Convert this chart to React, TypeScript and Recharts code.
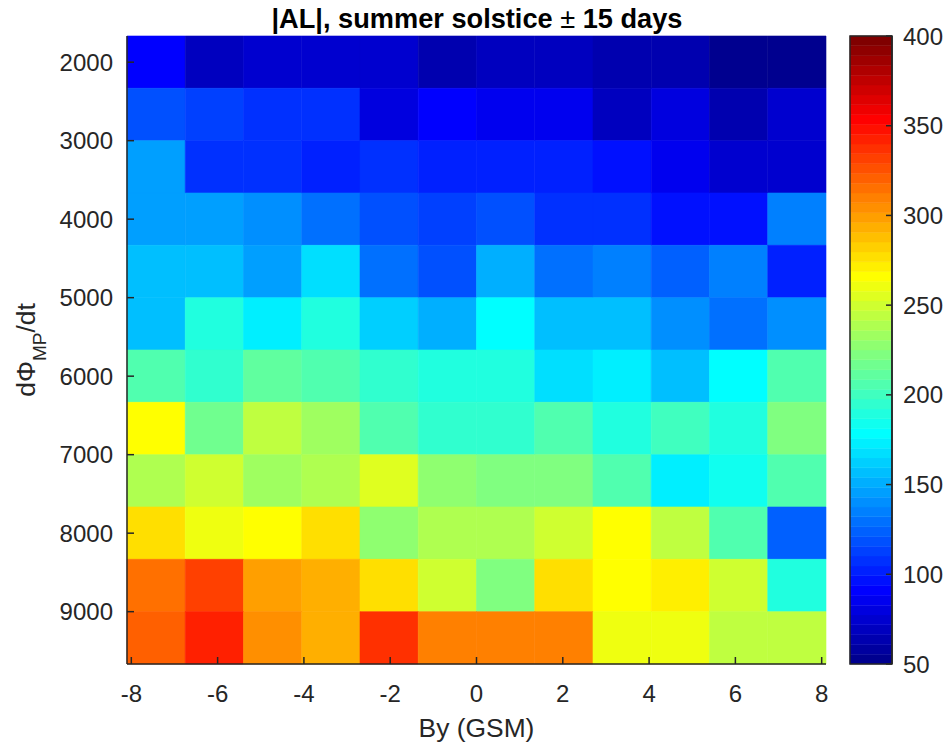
import React from 'react';
import { ScatterChart, Scatter, XAxis, YAxis, ReferenceArea } from 'recharts';

// Bin edges of the heat map (By in nT, dPhi_MP/dt)
const byEdges = [-8.1, -6.75, -5.4, -4.05, -2.7, -1.35, 0, 1.35, 2.7, 4.05, 5.4, 6.75, 8.1];
const dPhiEdges = [1666.7, 2333.3, 3000, 3666.7, 4333.3, 5000, 5666.7, 6333.3, 7000, 7666.7, 8333.3, 9000, 9666.7];

// |AL| values per dPhi bin (one value per By bin, left to right)
const al2000 = [90, 69, 77, 77, 77, 66, 68, 68, 63, 63, 53, 55];
const al2667 = [120, 115, 107, 107, 80, 91, 86, 86, 69, 80, 64, 75];
const al3333 = [146, 105, 108, 102, 108, 102, 102, 102, 96, 85, 75, 75];
const al4000 = [144, 144, 139, 129, 117, 113, 117, 107, 107, 96, 96, 136];
const al4667 = [155, 157, 144, 167, 132, 118, 150, 129, 133, 124, 136, 100];
const al5333 = [157, 190, 173, 190, 163, 151, 178, 157, 157, 141, 129, 141];
const al6000 = [206, 195, 213, 207, 195, 190, 192, 167, 173, 157, 178, 207];
const al6667 = [266, 217, 245, 235, 207, 195, 193, 207, 192, 198, 187, 223];
const al7333 = [239, 251, 235, 239, 255, 228, 223, 223, 207, 173, 185, 207];
const al8000 = [278, 260, 266, 278, 230, 239, 239, 247, 266, 243, 207, 126];
const al8667 = [316, 332, 299, 293, 278, 251, 223, 275, 266, 273, 251, 190];
const al9333 = [321, 342, 306, 293, 337, 309, 309, 309, 261, 261, 245, 245];
const alRows = [al2000, al2667, al3333, al4000, al4667, al5333, al6000, al6667, al7333, al8000, al8667, al9333];

const xTicks = [-8, -6, -4, -2, 0, 2, 4, 6, 8];
const yTicks = [2000, 3000, 4000, 5000, 6000, 7000, 8000, 9000];
const cbTicks = [50, 100, 150, 200, 250, 300, 350, 400];
const cLim = [50, 400];
const nColors = 64;

const FONT = '"Liberation Sans", Arial, Helvetica, sans-serif';
const INK = '#262626';

// MATLAB jet colormap, 1-based index
function jet(i: number, m: number = nColors): string {
  const n = Math.ceil(m / 4);
  const u: number[] = [];
  for (let k = 1; k <= n; k++) u.push(k / n);
  for (let k = 0; k < n - 1; k++) u.push(1);
  for (let k = n; k >= 1; k--) u.push(k / n);
  const g0 = Math.ceil(n / 2) - (m % 4 === 1 ? 1 : 0);
  const at = (j: number) => (j >= 1 && j <= u.length ? u[j - 1] : 0);
  const r = at(i - g0 - n);
  const g = at(i - g0);
  const b = at(i - g0 + n);
  const h = (x: number) => Math.round(x * 255).toString(16).padStart(2, '0');
  return '#' + h(r) + h(g) + h(b);
}

function valueColor(v: number): string {
  let idx = Math.floor(((v - cLim[0]) / (cLim[1] - cLim[0])) * nColors) + 1;
  idx = Math.max(1, Math.min(nColors, idx));
  return jet(idx);
}

type Cell = { x: number; y: number; x1: number; x2: number; y1: number; y2: number; v: number };
const cells: Cell[] = [];
alRows.forEach((row, j) => {
  row.forEach((v, i) => {
    cells.push({
      x: (byEdges[i] + byEdges[i + 1]) / 2,
      y: (dPhiEdges[j] + dPhiEdges[j + 1]) / 2,
      x1: byEdges[i],
      x2: byEdges[i + 1],
      y1: dPhiEdges[j],
      y2: dPhiEdges[j + 1],
      v,
    });
  });
});

const bands = Array.from({ length: nColors }, (_, i) => ({
  x: 0.5,
  y: cLim[0] + ((i + 0.5) * (cLim[1] - cLim[0])) / nColors,
  y1: cLim[0] + (i * (cLim[1] - cLim[0])) / nColors,
  y2: cLim[0] + ((i + 1) * (cLim[1] - cLim[0])) / nColors,
  color: jet(i + 1),
}));

const tickStyle = { fontSize: 24, fill: INK, fontFamily: FONT };
const noShape = () => <g />;

export default function App() {
  const xDom: [number, number] = [byEdges[0], byEdges[byEdges.length - 1]];
  const yDom: [number, number] = [dPhiEdges[0], dPhiEdges[dPhiEdges.length - 1]];
  return (
    <div style={{ position: 'absolute', left: 0, top: 0, width: 952, height: 749, background: '#fff', fontFamily: FONT }}>
      <div style={{ position: 'absolute', left: 0, top: 0 }}>
        <ScatterChart width={952} height={749} margin={{ top: 36, right: 126, bottom: 0, left: 0 }}>
          {cells.map((c, k) => (
            <ReferenceArea
              key={k}
              xAxisId="b"
              yAxisId="l"
              x1={c.x1}
              x2={c.x2}
              y1={c.y1}
              y2={c.y2}
              fill={valueColor(c.v)}
              fillOpacity={1}
              stroke={valueColor(c.v)}
              strokeWidth={0.6}
              ifOverflow="visible"
            />
          ))}
          <XAxis
            xAxisId="t"
            orientation="top"
            type="number"
            dataKey="x"
            domain={xDom}
            ticks={xTicks}
            height={0}
            tickSize={-7}
            tickFormatter={() => ''}
            stroke={INK}
            strokeWidth={1.5}
            allowDataOverflow
          />
          <XAxis
            xAxisId="b"
            orientation="bottom"
            type="number"
            dataKey="x"
            domain={xDom}
            ticks={xTicks}
            height={85}
            tickSize={-7}
            tickMargin={28}
            tick={tickStyle}
            stroke={INK}
            strokeWidth={1.5}
            allowDataOverflow
          />
          <YAxis
            yAxisId="l"
            orientation="left"
            type="number"
            dataKey="y"
            domain={yDom}
            reversed
            ticks={yTicks}
            width={127}
            tickSize={-7}
            tickMargin={21}
            tick={tickStyle}
            stroke={INK}
            strokeWidth={1.5}
            allowDataOverflow
          />
          <YAxis
            yAxisId="r"
            orientation="right"
            type="number"
            dataKey="y"
            domain={yDom}
            reversed
            ticks={yTicks}
            width={0}
            tickSize={-7}
            tickFormatter={() => ''}
            stroke={INK}
            strokeWidth={1.5}
            allowDataOverflow
          />
          <Scatter xAxisId="b" yAxisId="l" data={cells} dataKey="y" isAnimationActive={false} shape={noShape} />
          <Scatter xAxisId="t" yAxisId="r" data={cells} dataKey="y" isAnimationActive={false} shape={noShape} />
        </ScatterChart>
      </div>
      <div style={{ position: 'absolute', left: 840, top: 0 }}>
        <ScatterChart width={112} height={749} margin={{ top: 36, right: 0, bottom: 85, left: 10 }}>
          {bands.map((b, k) => (
            <ReferenceArea
              key={k}
              xAxisId="cx"
              yAxisId="cy"
              x1={0}
              x2={1}
              y1={b.y1}
              y2={b.y2}
              fill={b.color}
              fillOpacity={1}
              stroke={b.color}
              strokeWidth={0.5}
              ifOverflow="visible"
            />
          ))}
          <ReferenceArea
            xAxisId="cx"
            yAxisId="cy"
            x1={0}
            x2={1}
            y1={cLim[0]}
            y2={cLim[1]}
            fill="none"
            fillOpacity={0}
            stroke={INK}
            strokeWidth={1.5}
            ifOverflow="visible"
          />
          <XAxis
            xAxisId="cx"
            type="number"
            dataKey="x"
            domain={[0, 1]}
            height={0}
            tick={false}
            tickLine={false}
            axisLine={false}
            allowDataOverflow
          />
          <YAxis
            yAxisId="cy"
            orientation="right"
            type="number"
            dataKey="y"
            domain={cLim}
            ticks={cbTicks}
            width={60}
            tickSize={-6}
            tickMargin={17}
            tick={tickStyle}
            stroke={INK}
            strokeWidth={1.5}
            allowDataOverflow
          />
          <Scatter xAxisId="cx" yAxisId="cy" data={bands} dataKey="y" isAnimationActive={false} shape={noShape} />
        </ScatterChart>
      </div>
      <svg
        width={952}
        height={749}
        style={{ position: 'absolute', left: 0, top: 0, pointerEvents: 'none' }}
        fontFamily={FONT}
      >
        <text x={477} y={28} textAnchor="middle" fontSize={27.2} fontWeight="bold" fill="#000">
          |AL|, summer solstice <tspan fontWeight="normal">±</tspan> 15 days
        </text>
        <text x={476.5} y={737} textAnchor="middle" fontSize={26.4} fill={INK}>
          By (GSM)
        </text>
        <text transform="translate(35,350) rotate(-90)" textAnchor="middle" fontSize={26.4} fill={INK}>
          dΦ
          <tspan dy={11} fontSize={19}>MP</tspan>
          <tspan dy={-11}>/dt</tspan>
        </text>
      </svg>
    </div>
  );
}
